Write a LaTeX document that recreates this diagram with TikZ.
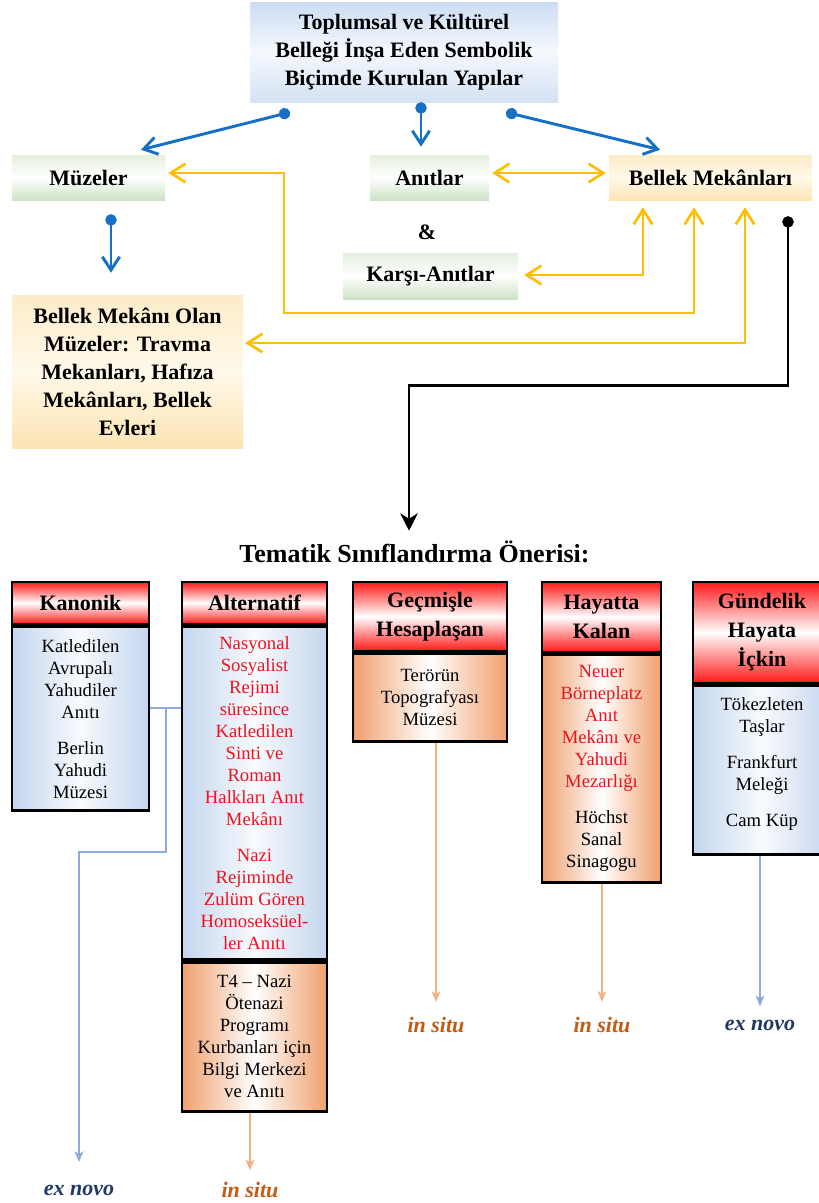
\documentclass[tikz,border=0pt]{standalone}
\usepackage{fontspec}
\setmainfont{Liberation Serif}
\usepackage{tikz}
\usetikzlibrary{arrows.meta}

\definecolor{arrblue}{RGB}{22,112,196}
\definecolor{gold}{RGB}{255,190,0}
\definecolor{lblue}{RGB}{143,170,220}
\definecolor{lorange}{RGB}{244,177,131}
\definecolor{navy}{RGB}{31,56,100}
\definecolor{rust}{RGB}{197,90,17}
\definecolor{hred}{RGB}{255,25,25}
\definecolor{textred}{RGB}{235,20,30}
\definecolor{bblue}{RGB}{196,214,238}
\definecolor{borange}{RGB}{240,160,110}
\definecolor{topblue}{RGB}{204,221,243}
\definecolor{greentop}{RGB}{228,240,222}
\definecolor{greenbot}{RGB}{205,226,197}
\definecolor{creamtop}{RGB}{252,236,200}
\definecolor{creammid}{RGB}{255,249,234}
\definecolor{creambot}{RGB}{251,228,178}

\begin{document}
\begin{tikzpicture}[x=0.75pt,y=0.75pt,yscale=-1,xscale=1,
    toplabel/.style={font=\fontsize{16.5}{21}\selectfont\bfseries, align=center, inner sep=1pt},
    bluebox/.style={toplabel, top color=topblue, bottom color=topblue!85, middle color=topblue!20},
    greenbox/.style={toplabel, top color=greentop, bottom color=greenbot, middle color=white},
    creambox/.style={toplabel, top color=creamtop, bottom color=creambot, middle color=creammid},
    colhead/.style={draw, line width=2pt, top color=hred, bottom color=hred, middle color=white, font=\fontsize{16.5}{21.75}\selectfont\bfseries, align=center, inner sep=1pt},
    colbody/.style={draw, line width=2pt, font=\fontsize{14}{16.5}\selectfont, align=center, inner sep=1pt, anchor=north},
    bluebody/.style={colbody, left color=bblue, right color=bblue, middle color=bblue!12},
    orangebody/.style={colbody, left color=borange, right color=borange, middle color=white},
    bluearrow/.style={draw=arrblue, line width=2.2pt, {Circle[length=8.5pt]}-{Straight Barb[length=10pt,width=13pt]}},
    goldarrow/.style={draw=gold, line width=2pt, {Straight Barb[length=11pt,width=14pt]}-{Straight Barb[length=11pt,width=14pt]}},
    blackarrow/.style={draw=black, line width=2.2pt, {Circle[length=8.5pt]}-{Stealth[length=13pt,width=13pt,inset=4pt]}},
    thinblue/.style={draw=lblue, line width=1.6pt, -{Stealth[length=8pt,width=6.5pt,inset=2pt]}},
    thinorange/.style={draw=lorange, line width=1.6pt, -{Stealth[length=8pt,width=6.5pt,inset=2pt]}},
    outcome/.style={font=\fontsize{16.5}{20}\selectfont\bfseries\itshape, inner sep=0.75pt}]
    \useasboundingbox (0,0) rectangle (818,1203);

    %Shape: Rectangle (top)
    \node (topbox) [bluebox, minimum width=231pt, minimum height=75pt] at (404,52) {Toplumsal ve Kültürel\\Belleği İnşa Eden Sembolik\\Biçimde Kurulan Yapılar};
    %Shape: Rectangle
    \node (muzeler) [greenbox, minimum width=114.75pt, minimum height=33.75pt] at (88.5,177.5) {Müzeler};
    %Shape: Rectangle
    \node (anitlar) [greenbox, minimum width=89.25pt, minimum height=33.75pt] at (429.5,177.5) {Anıtlar};
    %Shape: Rectangle
    \node (bellek) [creambox, minimum width=152.25pt, minimum height=33.75pt] at (710.5,177.5) {Bellek Mekânları};
    % Text Node
    \node (amp) [toplabel] at (427,232) {\&};
    %Shape: Rectangle
    \node (karsi) [greenbox, minimum width=131.25pt, minimum height=34.5pt] at (430.5,276) {Karşı-Anıtlar};
    %Shape: Rectangle
    \node (bmo) [creambox, minimum width=173.25pt, minimum height=114.75pt] at (127.5,371.5) {Bellek Mekânı Olan\\Müzeler: Travma\\Mekanları, Hafıza\\Mekânları, Bellek\\Evleri};

    %Straight Lines (blue)
    \draw [bluearrow] ([shift={(-114,10)}]topbox.south) -- ([shift={(52.5,-5)}]muzeler.north);
    \draw [bluearrow] ([shift={(17,0)}]topbox.south) -- ([shift={(-8.5,-8)}]anitlar.north);
    \draw [bluearrow] ([shift={(102,10)}]topbox.south) -- ([shift={(-50.5,-5)}]bellek.north);
    \draw [bluearrow] ([shift={(22.5,14)}]muzeler.south) -- ([shift={(-16.5,-22)}]bmo.north);

    %Straight Lines (gold)
    \draw [goldarrow] ([shift={(3,-4.5)}]anitlar.east) -- ([shift={(-3,-4.5)}]bellek.west);
    \draw [goldarrow] ([shift={(3,-4.5)}]muzeler.east) -| (284,313) -| ([shift={(-16.5,7)}]bellek.south);
    \draw [goldarrow] ([shift={(6,-1)}]karsi.east) -| ([shift={(-67.5,7)}]bellek.south);
    \draw [goldarrow] ([shift={(2,-28.5)}]bmo.east) -| ([shift={(34.5,7)}]bellek.south);

    % Text Node
    \node (title) [font=\fontsize{19.5}{24}\selectfont\bfseries, inner sep=0.75pt] at (414.5,552) {Tematik Sınıflandırma Önerisi:};

    %Straight Lines (black)
    \draw [blackarrow] ([shift={(77.5,16)}]bellek.south) |- ([shift={(-5.5,-154)}]title.north) -- ([shift={(-5.5,-9)}]title.north);

    %Shape: Columns
    \node (kanHead) [colhead, minimum width=102.75pt, minimum height=31.5pt] at (80.5,603) {Kanonik};
    \node (kanBody) [bluebody, minimum width=102.75pt, minimum height=138pt] at (kanHead.south) {Katledilen\\Avrupalı\\Yahudiler\\Anıtı\\[10.5pt]Berlin\\Yahudi\\Müzesi};

    \node (altHead) [colhead, minimum width=108.75pt, minimum height=31.5pt] at (254.5,603) {Alternatif};
    \node (altBody) [bluebody, minimum width=108.75pt, minimum height=249.75pt, text=textred] at (altHead.south) {Nasyonal\\Sosyalist\\Rejimi\\süresince\\Katledilen\\Sinti ve\\Roman\\Halkları Anıt\\Mekânı\\[10.5pt]Nazi\\Rejiminde\\Zulüm Gören\\Homoseksüel-\\ler Anıtı};
    \node (t4Body) [orangebody, minimum width=108.75pt, minimum height=111.75pt] at (altBody.south) {T4 – Nazi\\Ötenazi\\Programı\\Kurbanları için\\Bilgi Merkezi\\ve Anıtı};

    \node (gecHead) [colhead, minimum width=115.5pt, minimum height=51.75pt] at (430,616.5) {Geçmişle\\Hesaplaşan};
    \node (gecBody) [orangebody, minimum width=115.5pt, minimum height=66pt] at (gecHead.south) {Terörün\\Topografyası\\Müzesi};

    \node (hayHead) [colhead, minimum width=89.25pt, minimum height=52.5pt] at (601.5,617) {Hayatta\\Kalan};
    \node (hayBody) [orangebody, minimum width=89.25pt, minimum height=171pt, text=textred] at (hayHead.south) {Neuer\\Börneplatz\\Anıt\\Mekânı ve\\Yahudi\\Mezarlığı\\[10.5pt]\textcolor{black}{Höchst}\\\textcolor{black}{Sanal}\\\textcolor{black}{Sinagogu}};

    \node (gunHead) [colhead, minimum width=103.5pt, minimum height=75.75pt] at (762,632.5) {Gündelik\\Hayata\\İçkin};
    \node (gunBody) [bluebody, minimum width=103.5pt, minimum height=126.75pt] at (gunHead.south) {Tökezleten\\Taşlar\\[10.5pt]Frankfurt\\Meleği\\[10.5pt]Cam Küp\\[-5pt]};

    % Text Node
    \node (exnovoA) [outcome, text=navy] at (79,1190) {ex novo};
    \node (insituA) [outcome, text=rust] at (250,1190) {in situ};
    \node (insituB) [outcome, text=rust] at (436,1025) {in situ};
    \node (insituC) [outcome, text=rust] at (602,1025) {in situ};
    \node (exnovoB) [outcome, text=navy] at (760,1025) {ex novo};

    %Straight Lines (thin)
    \coordinate (kbranch) at (166,708);
    \coordinate (kturn) at (79,852);
    \draw [draw=lblue, line width=1.6pt] (kanBody.east |- kbranch) -- (altBody.west |- kbranch);
    \draw [thinblue, shorten >=16pt] (kbranch) |- (kturn) -- (exnovoA);
    \draw [thinorange, shorten >=8pt] (t4Body.south -| insituA) -- (insituA);
    \draw [thinorange, shorten >=10.5pt] (gecBody.south -| insituB) -- (insituB);
    \draw [thinorange, shorten >=10.5pt] (hayBody.south -| insituC) -- (insituC);
    \draw [thinblue, shorten >=9pt] (gunBody.south -| exnovoB) -- (exnovoB);
\end{tikzpicture}
\end{document}
